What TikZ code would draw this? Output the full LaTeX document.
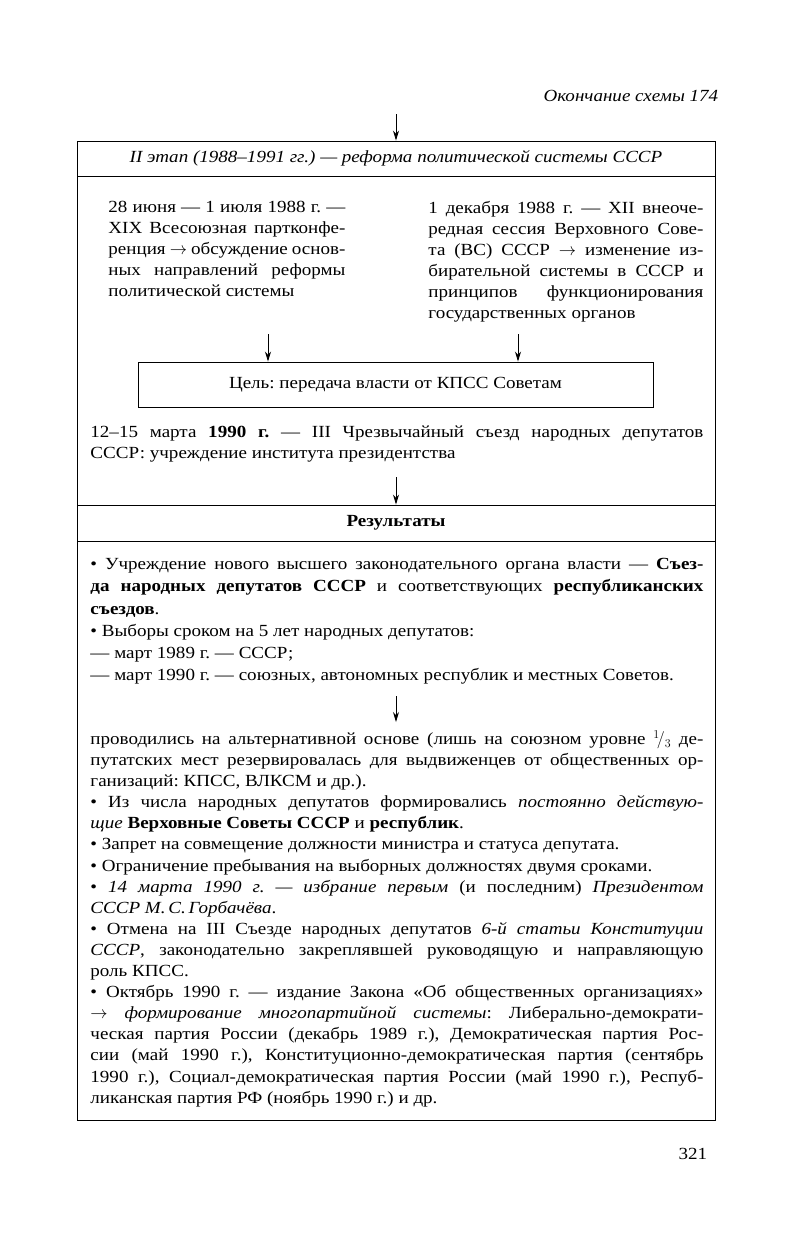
\documentclass[tikz,border=0pt]{standalone}
\usepackage{fontspec}
\setmainfont[FakeStretch=1.12]{Liberation Serif}
\usetikzlibrary{arrows.meta,positioning}
\frenchspacing

\begin{document}
\begin{tikzpicture}[x=1pt,y=-1pt,>={Stealth[length=10pt,width=6pt]},line width=0.9pt,
  font=\fontsize{17}{21}\selectfont,
  txt/.style={inner sep=0pt,align=justify,anchor=north west},
  band/.style={draw,minimum width=638pt,inner sep=0pt}]
  \def\tw{613pt}
  \useasboundingbox (0,0) rectangle (791,1245);
  \node[anchor=base east,font=\fontsize{17}{21}\selectfont\itshape] (cont) at (722,101) {Окончание схемы 174};
  % outer frame of the stage
  \draw (77,141) rectangle (715,1120);
  \node[band,minimum height=35pt,font=\fontsize{17}{21}\selectfont\itshape] (stage) at (396,158.5)
    {II этап (1988–1991 гг.) — реформа политической системы СССР};
  \coordinate (stin) at (396,114);
  \draw[->] (stin) -- (stage.north);
  % two sessions
  \node[txt,text width=237pt] (conf) at (108,201)
    {28 июня — 1 июля 1988 г. —\linebreak XIX Всесоюзная партконфе-\linebreak ренция $\to$ обсуждение основ-\linebreak ных направлений реформы\linebreak политической системы};
  \node[txt,text width=275pt] (sess) at (428,201)
    {1 декабря 1988 г. — XII внеоче-\linebreak редная сессия Верховного Сове-\linebreak та (ВС) СССР $\to$ изменение из-\linebreak бирательной системы в СССР и\linebreak принципов функционирования\linebreak государственных органов};
  \node[draw,minimum width=515pt,minimum height=45pt] (goal) at (395.5,384.5)
    {Цель: передача власти от КПСС Советам};
  \coordinate (la) at (268,334);
  \coordinate (ra) at (518,334);
  \draw[->] (la) -- (la |- goal.north);
  \draw[->] (ra) -- (ra |- goal.north);
  \node[txt,text width=\tw] (march) at (90,425)
    {12–15 марта \textbf{1990 г.} — III Чрезвычайный съезд народных депутатов\linebreak СССР: учреждение института президентства};
  % results
  \node[band,minimum height=36pt,font=\fontsize{17}{21}\selectfont\bfseries] (res) at (396,523) {Результаты};
  \coordinate (ma) at (396,477);
  \draw[->] (ma) -- (res.north);
  \node[txt,text width=\tw,font=\fontsize{17}{22.2}\selectfont] (organs) at (90,558)
    {• Учреждение нового высшего законодательного органа власти — \textbf{Съез-\linebreak да народных депутатов СССР} и соответствующих \textbf{республиканских\linebreak съездов}.\\
    • Выборы сроком на 5 лет народных депутатов:\\
    — март 1989 г. — СССР;\\
    — март 1990 г. — союзных, автономных республик и местных Советов.};
  \coordinate (mid) at (396,696);
  \coordinate (midend) at (396,722);
  \draw[->] (mid) -- (midend);
  \node[txt,text width=\tw,font=\fontsize{17}{21.1}\selectfont] (elect) at (90,730)
    {проводились на альтернативной основе (лишь на союзном уровне $^{1}\!/_{3}$ де-\linebreak путатских мест резервировалась для выдвиженцев от общественных ор-\linebreak ганизаций: КПСС, ВЛКСМ и др.).\\
    • Из числа народных депутатов формировались \textit{постоянно действую-\linebreak щие} \textbf{Верховные Советы СССР} и \textbf{республик}.\\
    • Запрет на совмещение должности министра и статуса депутата.\\
    • Ограничение пребывания на выборных должностях двумя сроками.\\
    • \textit{14 марта 1990 г. — избрание первым} (и последним) \textit{Президентом\linebreak СССР М.\,С.\,Горбачёва}.\\
    • Отмена на III Съезде народных депутатов \textit{6-й статьи Конституции\linebreak СССР}, законодательно закреплявшей руководящую и направляющую\linebreak роль КПСС.\\
    • Октябрь 1990 г. — издание Закона «Об общественных организациях»\linebreak
    \textit{$\to$ формирование многопартийной системы}: Либерально-демократи-\linebreak ческая партия России (декабрь 1989 г.), Демократическая партия Рос-\linebreak сии (май 1990 г.), Конституционно-демократическая партия (сентябрь\linebreak 1990 г.), Социал-демократическая партия России (май 1990 г.), Респуб-\linebreak ликанская партия РФ (ноябрь 1990 г.) и др.};
  \node[anchor=base east] (page) at (711,1159) {321};
\end{tikzpicture}
\end{document}
